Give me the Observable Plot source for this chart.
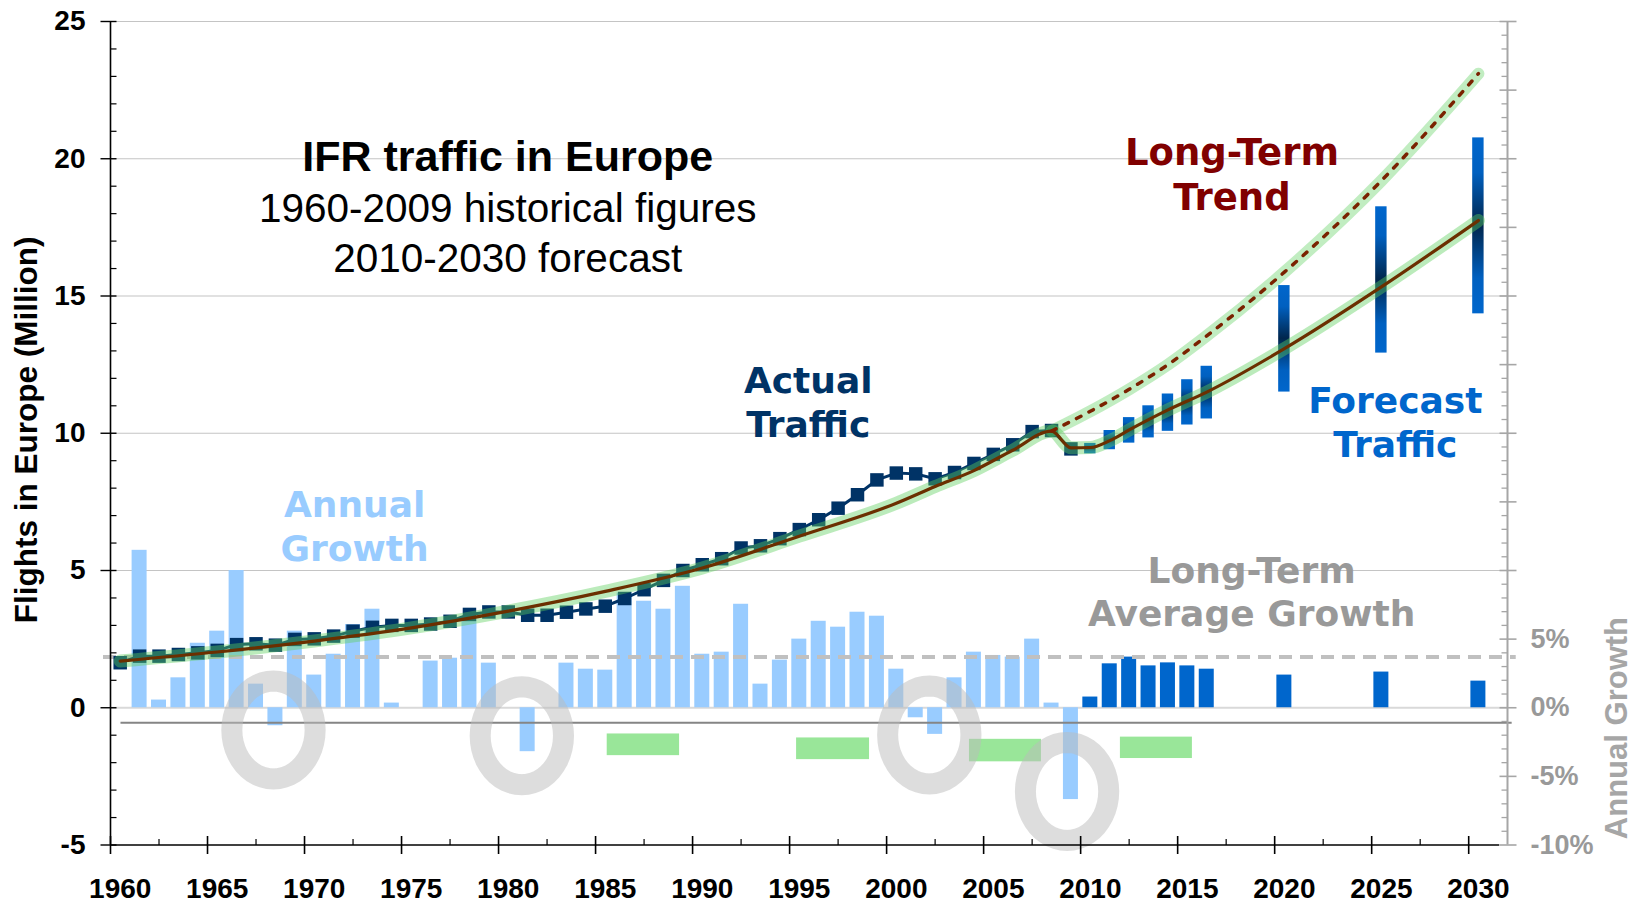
<!DOCTYPE html>
<html>
<head>
<meta charset="utf-8">
<script src="https://cdn.jsdelivr.net/npm/d3@7"></script>
<script src="https://cdn.jsdelivr.net/npm/@observablehq/plot@0.6"></script>
<style>
  html, body { margin: 0; padding: 0; background: #ffffff; }
  #chart svg { display: block; }
</style>
</head>
<body>
<div id="chart"></div>
<script>
// ---------------- DATA ----------------
// Actual IFR flights in Europe, millions, 1960-2009
const actualYears = [1960,1961,1962,1963,1964,1965,1966,1967,1968,1969,
                     1970,1971,1972,1973,1974,1975,1976,1977,1978,1979,
                     1980,1981,1982,1983,1984,1985,1986,1987,1988,1989,
                     1990,1991,1992,1993,1994,1995,1996,1997,1998,1999,
                     2000,2001,2002,2003,2004,2005,2006,2007,2008,2009];
const actualFlights = [1.64,1.88,1.88,1.94,2.00,2.09,2.30,2.33,2.28,2.49,
                       2.51,2.61,2.79,2.93,3.00,3.00,3.05,3.15,3.40,3.49,
                       3.49,3.37,3.37,3.48,3.60,3.70,3.98,4.30,4.64,5.00,
                       5.21,5.43,5.82,5.90,6.16,6.49,6.85,7.27,7.76,8.30,
                       8.55,8.52,8.34,8.57,8.90,9.23,9.58,10.06,10.10,9.43];

// Historical annual growth, percent, 1961-2009
const growthYears = [1961,1962,1963,1964,1965,1966,1967,1968,1969,
                     1970,1971,1972,1973,1974,1975,1976,1977,1978,1979,
                     1980,1981,1982,1983,1984,1985,1986,1987,1988,1989,
                     1990,1991,1992,1993,1994,1995,1996,1997,1998,1999,
                     2000,2001,2002,2003,2004,2005,2006,2007,2008,2009];
const growthPct = [11.47,0.56,2.18,4.70,5.58,10.0,1.72,-1.31,5.58,
                   2.38,3.90,6.06,7.18,0.34,0.0,3.40,3.61,6.40,3.25,
                   0.0,-3.20,0.0,3.25,2.81,2.74,8.36,7.76,7.18,8.85,
                   3.90,4.05,7.54,1.72,3.47,5.00,6.30,5.87,6.96,6.67,
                   2.81,-0.73,-1.94,2.18,4.05,3.81,3.69,5.00,0.34,-6.69];

// Forecast: annual growth (percent) and traffic range (millions)
const forecastYears     = [2010,2011,2012,2013,2014,2015,2016,2020,2025,2030];
const forecastGrowthPct = [0.78,3.20,3.69,3.05,3.27,3.05,2.81,2.38,2.60,1.94];
const forecastLow       = [9.25,9.40,9.64,9.83,10.07,10.30,10.52,11.50,12.92,14.35];
const forecastHigh      = [9.63,10.10,10.57,11.00,11.43,11.95,12.44,15.38,18.25,20.76];

// Long-term trend (solid) and pre-crisis long-term trend (dotted), millions
const trendYears  = [1960,1965,1970,1975,1980,1985,1990,1995,2000,2002,2004,2006,2008,2009,2010,2011,2012,2014,2016,2020,2025,2030];
const trendValues = [1.70,2.03,2.43,2.91,3.52,4.24,5.09,6.25,7.45,8.06,8.64,9.38,10.08,9.47,9.48,9.73,10.12,10.85,11.50,13.08,15.33,17.75];
const upperTrendYears  = [2008,2010,2012,2014,2016,2020,2025,2030];
const upperTrendValues = [10.08,10.80,11.60,12.50,13.55,15.87,19.20,23.10];

// Long-term average growth, percent
const longTermAvgGrowthPct = 3.7;
// Reference line of the growth panel, percent
const growthBaselinePct = -1.1;

// Green period bands (years, percent)
const cycleStart     = [1985.6, 1995.36, 2004.27, 2012.05];
const cycleEnd       = [1989.33, 1999.12, 2007.98, 2015.76];
const cycleTopPct    = [-1.91, -2.20, -2.30, -2.14];
const cycleBottomPct = [-3.49, -3.78, -3.94, -3.70];

// Grey rings marking downturns (year, percent)
const dipYears = [1968.4, 1981.2, 2002.2, 2009.3];
const dipPct   = [-1.62, -2.04, -1.98, -6.10];

// Tick labels
const xTickYears   = [1960,1965,1970,1975,1980,1985,1990,1995,2000,2005,2010,2015,2020,2025,2030];
const xMinorYears  = [1962.5,1967.5,1972.5,1977.5,1982.5,1987.5,1992.5,1997.5,2002.5,2007.5,2012.5,2017.5,2022.5,2027.5];
const yTicks       = [-5,0,5,10,15,20,25];
const growthTickPct    = [5,0,-5,-10];
const growthTickLabels = ["5%","0%","-5%","-10%"];

// ---------------- BUILD TABLES ----------------
const pctToUnits = p => p / 2;   // secondary axis: 10 % = 5 million units
const actual = actualYears.map((year, i) => ({year, value: actualFlights[i]}));
const growth = growthYears.map((year, i) => ({year, pct: growthPct[i]}));
const forecast = forecastYears.map((year, i) => ({year, pct: forecastGrowthPct[i], lo: forecastLow[i], hi: forecastHigh[i]}));
const trend = trendYears.map((year, i) => ({year, value: trendValues[i]}));
const upper = upperTrendYears.map((year, i) => ({year, value: upperTrendValues[i]}));
const cycles = cycleStart.map((s, i) => ({s, e: cycleEnd[i], t: cycleTopPct[i], b: cycleBottomPct[i]}));
const dips = dipYears.map((year, i) => ({year, pct: dipPct[i]}));
const yMinor = d3.range(-5, 25.001, 1).filter(v => v % 5 !== 0);
const rightMajor = d3.range(-5, 25.001, 2.5);
const rightMinor = d3.range(-5, 25.001, 0.5).filter(v => Math.abs(v / 2.5 - Math.round(v / 2.5)) > 1e-6);
const growthTicks = growthTickPct.map((p, i) => ({p, label: growthTickLabels[i]}));

// ---------------- SYMBOLS ----------------
const hTick = (a, b) => ({draw(ctx) { ctx.moveTo(a, 0); ctx.lineTo(b, 0); }});
const vTick = (a, b) => ({draw(ctx) { ctx.moveTo(0, a); ctx.lineTo(0, b); }});
const ringSymbol = {draw(ctx, size) {
  const r = Math.sqrt(size / Math.PI), rx = r * 0.85, ry = r, n = 48;
  for (let i = 0; i < n; ++i) {
    const a = 2 * Math.PI * i / n;
    if (i === 0) ctx.moveTo(rx * Math.cos(a), ry * Math.sin(a));
    else ctx.lineTo(rx * Math.cos(a), ry * Math.sin(a));
  }
  ctx.closePath();
}};

const defsMark = () => {
  const g = document.createElementNS("http://www.w3.org/2000/svg", "g");
  g.innerHTML = `<defs><linearGradient id="fcGrad" x1="0" y1="0" x2="0" y2="1">
    <stop offset="0" stop-color="#0066cc"/><stop offset="0.2" stop-color="#0060c0"/>
    <stop offset="0.5" stop-color="#00264d"/><stop offset="0.8" stop-color="#0060c0"/>
    <stop offset="1" stop-color="#0066cc"/></linearGradient></defs>`;
  return g;
};

const ARIAL = "'Liberation Sans', Arial, sans-serif";
const VERD = "'DejaVu Sans', Verdana, sans-serif";
const cx = d => d.year + 0.5;

const chart = Plot.plot({
  width: 1633,
  height: 902,
  marginLeft: 110,
  marginRight: 126,
  marginTop: 21,
  marginBottom: 57.5,
  x: {type: "linear", domain: [1960, 2032], axis: null},
  y: {type: "linear", domain: [-5, 25], axis: null},
  style: {background: "#ffffff", overflow: "visible", fontFamily: ARIAL},
  marks: [
    defsMark,
    // gridlines
    Plot.ruleY([5, 10, 15, 20, 25], {x1: 1960, x2: 2032, stroke: "#c4c4c4", strokeWidth: 1.2}),
    Plot.ruleY([0], {x1: 1960, x2: 2032, stroke: "#d9d9d9", strokeWidth: 2}),
    // annual growth bars
    Plot.rect(growth, {x1: "year", x2: d => d.year + 1, y1: 0, y2: d => pctToUnits(d.pct), insetLeft: 2.2, insetRight: 2.2, fill: "#99ccff"}),
    Plot.rect(forecast, {x1: "year", x2: d => d.year + 1, y1: 0, y2: d => pctToUnits(d.pct), insetLeft: 2.2, insetRight: 2.2, fill: "#0066cc"}),
    // green period bands
    Plot.rect(cycles, {x1: "s", x2: "e", y1: d => pctToUnits(d.t), y2: d => pctToUnits(d.b), fill: "#99e699"}),
    // long-term average growth
    Plot.ruleY([pctToUnits(longTermAvgGrowthPct)], {x1: 1959.64, x2: 2032.45, stroke: "#c0c0c0", strokeWidth: 4, strokeDasharray: "13,8"}),
    // growth panel baseline
    Plot.ruleY([pctToUnits(growthBaselinePct)], {x1: 1960.54, x2: 2032.24, stroke: "#858585", strokeWidth: 2}),
    // forecast range bars
    Plot.rect(forecast, {x1: "year", x2: d => d.year + 1, y1: "lo", y2: "hi", insetLeft: 4, insetRight: 4, fill: "url(#fcGrad)"}),
    // actual traffic
    Plot.line(actual, {x: cx, y: "value", stroke: "#003366", strokeWidth: 3}),
    Plot.dot(actual, {x: cx, y: "value", symbol: "square", r: 7.6, fill: "#003366"}),
    // trend glow
    Plot.line(trend, {x: cx, y: "value", curve: "monotone-x", stroke: "#5ccf5c", strokeOpacity: 0.42, strokeWidth: 13}),
    Plot.line(upper, {x: cx, y: "value", curve: "monotone-x", stroke: "#5ccf5c", strokeOpacity: 0.38, strokeWidth: 12}),
    // trend lines
    Plot.line(trend, {x: cx, y: "value", curve: "monotone-x", stroke: "#6b2f00", strokeWidth: 3.2}),
    Plot.line(upper, {x: cx, y: "value", curve: "monotone-x", stroke: "#7a2200", strokeWidth: 3.5, strokeDasharray: "5,9"}),
    // downturn rings
    Plot.dot(dips, {x: "year", y: d => pctToUnits(d.pct), r: 49, symbol: ringSymbol, fill: "none", stroke: "#bcbcbc", strokeOpacity: 0.5, strokeWidth: 21}),
    // axes lines
    Plot.ruleX([1960], {y1: -5, y2: 25, stroke: "#000", strokeWidth: 1.6}),
    Plot.ruleY([-5], {x1: 1960, x2: 2031.6, stroke: "#000", strokeWidth: 1.6}),
    Plot.ruleX([2032], {y1: -5, y2: 25, stroke: "#a6a6a6", strokeWidth: 2}),
    // left ticks
    Plot.dot(yTicks, {x: 1960, y: d => d, r: 1, symbol: hTick(-10, 6), stroke: "#000", strokeWidth: 1.4, fill: "none"}),
    Plot.dot(yMinor, {x: 1960, y: d => d, r: 1, symbol: hTick(0, 6), stroke: "#000", strokeWidth: 1.2, fill: "none"}),
    // bottom ticks
    Plot.dot(xTickYears, {x: d => d, y: -5, r: 1, symbol: vTick(-9, 9), stroke: "#000", strokeWidth: 1.6, fill: "none"}),
    Plot.dot(xMinorYears, {x: d => d, y: -5, r: 1, symbol: vTick(-6, 0), stroke: "#000", strokeWidth: 1.2, fill: "none"}),
    // right ticks
    Plot.dot(rightMajor, {x: 2032, y: d => d, r: 1, symbol: hTick(-8, 9), stroke: "#a6a6a6", strokeWidth: 1.6, fill: "none"}),
    Plot.dot(rightMinor, {x: 2032, y: d => d, r: 1, symbol: hTick(-6, 0), stroke: "#a6a6a6", strokeWidth: 1.3, fill: "none"}),
    // tick labels
    Plot.text(xTickYears, {x: d => d + 0.5, y: -5, dy: 53, text: d => String(d), lineAnchor: "bottom", textAnchor: "middle",
      fontFamily: ARIAL, fontWeight: "bold", fontSize: 28, fill: "#000", letterSpacing: "0.3px"}),
    Plot.text(yTicks, {x: 1960, y: d => d, dx: -25, text: d => String(d), lineAnchor: "middle", textAnchor: "end",
      fontFamily: ARIAL, fontWeight: "bold", fontSize: 28, fill: "#000"}),
    Plot.text(growthTicks, {x: 2032, y: d => pctToUnits(d.p), dx: 23, text: "label", lineAnchor: "middle", textAnchor: "start",
      fontFamily: ARIAL, fontWeight: "bold", fontSize: 27, fill: "#999999"}),
    // axis titles
    Plot.text(["Flights in Europe (Million)"], {x: 1955.69, y: 10.12, rotate: -90, lineAnchor: "middle", textAnchor: "middle",
      fontFamily: ARIAL, fontWeight: "bold", fontSize: 31.5, fill: "#000"}),
    Plot.text(["Annual Growth"], {x: 2037.67, y: -0.74, rotate: -90, lineAnchor: "middle", textAnchor: "middle",
      fontFamily: ARIAL, fontWeight: "bold", fontSize: 31, fill: "#a6a6a6"}),
    // title block
    Plot.text(["IFR traffic in Europe"], {x: 1980.47, y: 19.55, lineAnchor: "bottom", textAnchor: "middle",
      fontFamily: ARIAL, fontWeight: "bold", fontSize: 43, fill: "#000"}),
    Plot.text(["1960-2009 historical figures"], {x: 1980.47, y: 17.71, lineAnchor: "bottom", textAnchor: "middle",
      fontFamily: ARIAL, fontSize: 40.5, fill: "#000"}),
    Plot.text(["2010-2030 forecast"], {x: 1980.47, y: 15.89, lineAnchor: "bottom", textAnchor: "middle",
      fontFamily: ARIAL, fontSize: 40.5, fill: "#000"}),
    // series annotations
    Plot.text(["Long-Term\nTrend"], {x: 2017.80, y: 18.12, lineAnchor: "bottom", lineHeight: 1.22, textAnchor: "middle",
      fontFamily: VERD, fontWeight: "bold", fontSize: 37, fill: "#800000"}),
    Plot.text(["Actual\nTraffic"], {x: 1995.96, y: 9.88, lineAnchor: "bottom", lineHeight: 1.22, textAnchor: "middle",
      fontFamily: VERD, fontWeight: "bold", fontSize: 36, fill: "#003366"}),
    Plot.text(["Annual\nGrowth"], {x: 1972.58, y: 5.36, lineAnchor: "bottom", lineHeight: 1.22, textAnchor: "middle",
      fontFamily: VERD, fontWeight: "bold", fontSize: 36, fill: "#99ccff"}),
    Plot.text(["Forecast\nTraffic"], {x: 2026.22, y: 9.15, lineAnchor: "bottom", lineHeight: 1.22, textAnchor: "middle",
      fontFamily: VERD, fontWeight: "bold", fontSize: 36, fill: "#0066cc"}),
    Plot.text(["Long-Term\nAverage Growth"], {x: 2018.81, y: 2.96, lineAnchor: "bottom", lineHeight: 1.22, textAnchor: "middle",
      fontFamily: VERD, fontWeight: "bold", fontSize: 36, fill: "#999999"})
  ]
});
document.getElementById("chart").appendChild(chart);
</script>
</body>
</html>
